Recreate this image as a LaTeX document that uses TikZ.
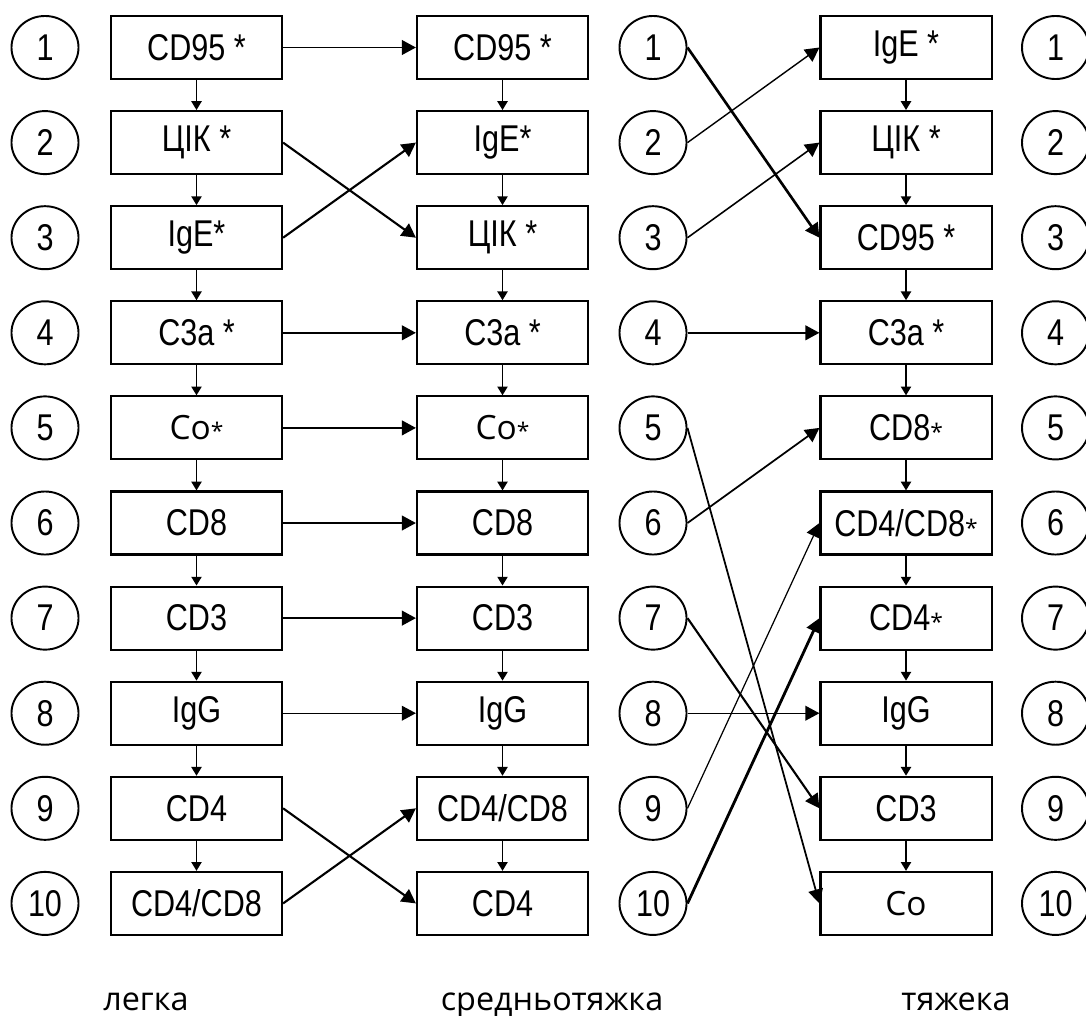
\documentclass[tikz,border=0pt]{standalone}
\usepackage{fontspec}
\setmainfont{Liberation Sans}[FakeStretch=0.82]
\newfontfamily\labfont{Open Sans}
\usetikzlibrary{arrows.meta,shapes.geometric}
\newcommand{\sast}{{\labfont\fontsize{6.5}{7}\selectfont *}}
\newcommand{\co}{{\labfont\fontsize{9.5}{11}\selectfont Co}}

\begin{document}
\begin{tikzpicture}[x=0.01cm,y=-0.01cm,font=\fontsize{10.6}{12}\selectfont,
    cell/.style={draw,line width=0.6pt,minimum width=1.71cm,minimum height=0.63cm,inner sep=0pt},
    num/.style={draw,ellipse,line width=0.55pt,minimum width=0.67cm,minimum height=0.63cm,inner sep=0pt},
    big/.style={-{Triangle[length=4pt,width=4.2pt]}},
    tiny/.style={-{Triangle[length=2.5pt,width=2.9pt]},line width=0.45pt},
    lab/.style={font=\labfont\fontsize{9.2}{11}\selectfont,anchor=base}]
  \useasboundingbox (0,0) rectangle (1086,1015);
  % numbers
  \foreach \i in {1,...,10}{
    \node[num] (a\i) at (45,{47.5+95.1*(\i-1)}) {\i};
    \node[num] (c\i) at (653,{47.5+95.1*(\i-1)}) {\i};
    \node[num] (d\i) at (1055.5,{47.5+95.1*(\i-1)}) {\i};
  }
  % three columns
  \foreach \i/\t in {1/{CD95 *},2/{ЦІК *},3/{IgE*},4/{C3a *},5/{\co\sast},
                     6/CD8,7/CD3,8/IgG,9/CD4,10/{CD4/CD8}}
    \node[cell] (l\i) at (196.5,{47.5+95.1*(\i-1)}) {\t};
  \foreach \i/\t in {1/{CD95 *},2/{IgE*},3/{ЦІК *},4/{C3a *},5/{\co\sast},
                     6/CD8,7/CD3,8/IgG,9/{CD4/CD8},10/CD4}
    \node[cell] (m\i) at (502.5,{47.5+95.1*(\i-1)}) {\t};
  \foreach \i/\t in {1/{IgE *},2/{ЦІК *},3/{CD95 *},4/{C3a *},5/{CD8\sast},
                     6/{CD4/CD8\sast},7/{CD4\sast},8/IgG,9/CD3,10/\co}
    \node[cell] (s\i) at (906,{47.5+95.1*(\i-1)}) {\t};
  \foreach \i [count=\j from 2] in {1,...,9}{
    \draw[tiny] (l\i.south) -- (l\j.north);
    \draw[tiny] (m\i.south) -- (m\j.north);
    \draw[tiny] (s\i.south) -- (s\j.north);
  }
  % moves between columns
  \foreach \i/\w in {1/0.5,4/0.55,5/0.55,6/0.5,7/0.55,8/0.35}
    \draw[big,line width=\w pt] (l\i.east) -- (m\i.west);
  \draw[big,line width=0.6pt] (l2.east) -- (m3.west);
  \draw[big,line width=0.6pt] (l3.east) -- (m2.west);
  \draw[big,line width=0.6pt] (l9.east) -- (m10.west);
  \draw[big,line width=0.6pt] (l10.east) -- (m9.west);
  \foreach \a/\b/\w in {1/3/0.75,2/1/0.4,3/2/0.45,4/4/0.5,5/10/0.5,
                        6/5/0.5,7/9/0.6,8/8/0.4,9/6/0.35,10/7/0.8}
    \draw[big,line width=\w pt] (c\a.east) -- (s\b.west);
  \node[lab] (mild) at (146,1010) {легка};
  \node[lab] (medium) at (552,1010) {средньотяжка};
  \node[lab] (severe) at (956,1010) {тяжека};
\end{tikzpicture}
\end{document}
